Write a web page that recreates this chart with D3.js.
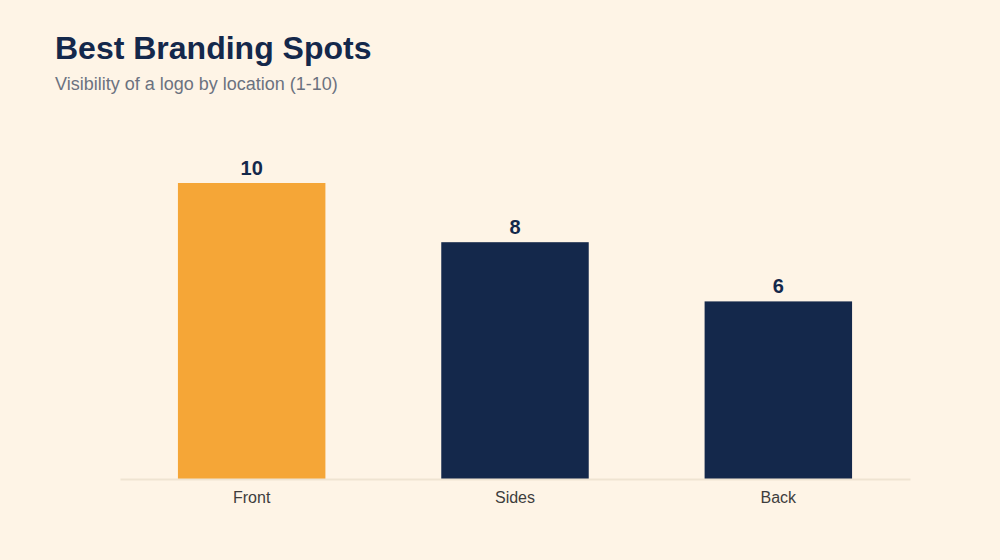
<!DOCTYPE html>
<html>
<head>
<meta charset="utf-8">
<script src="https://cdn.jsdelivr.net/npm/d3@7"></script>
<style>
  html, body { margin: 0; padding: 0; background: #fef4e6; }
  svg { display: block; font-family: "Liberation Sans", Arial, Helvetica, sans-serif; }
</style>
</head>
<body>
<svg id="chart" width="1000" height="560"></svg>
<script>
const categories = ['Front', 'Sides', 'Back'];
const values = [10, 8, 6];
const barColors = ['#f5a637', '#14284b', '#14284b'];

const width = 1000;
const height = 560;
const margin = { top: 183, right: 90, bottom: 81, left: 120 };

const svg = d3.select('#chart');

svg.append('rect')
  .attr('width', width)
  .attr('height', height)
  .attr('fill', '#fef4e6');

// title + subtitle
svg.append('text')
  .attr('x', 55)
  .attr('y', 59)
  .attr('fill', '#14284b')
  .style('font-size', '32px')
  .style('font-weight', 'bold')
  .text('Best Branding Spots');

svg.append('text')
  .attr('x', 55)
  .attr('y', 90)
  .attr('fill', '#6b7280')
  .style('font-size', '18px')
  .text('Visibility of a logo by location (1-10)');

const data = categories.map((c, i) => ({ name: c, value: values[i], color: barColors[i] }));

const xScale = d3.scaleBand()
  .domain(categories)
  .range([margin.left, width - margin.right])
  .paddingInner(0.44)
  .paddingOuter(0.22);

const yScale = d3.scaleLinear()
  .domain([0, 10])
  .range([height - margin.bottom, margin.top]);

// bars
svg.append('g')
  .selectAll('rect')
  .data(data)
  .join('rect')
  .attr('x', d => xScale(d.name))
  .attr('y', d => yScale(d.value))
  .attr('width', xScale.bandwidth())
  .attr('height', d => yScale(0) - yScale(d.value))
  .attr('fill', d => d.color);

// value labels
svg.append('g')
  .selectAll('text')
  .data(data)
  .join('text')
  .attr('x', d => xScale(d.name) + xScale.bandwidth() / 2)
  .attr('y', d => yScale(d.value) - 8)
  .attr('text-anchor', 'middle')
  .attr('fill', '#14284b')
  .style('font-size', '20px')
  .style('font-weight', 'bold')
  .text(d => d.value);

// x axis
const xAxis = svg.append('g')
  .attr('transform', `translate(0, ${yScale(0)})`)
  .call(d3.axisBottom(xScale).tickSize(0).tickPadding(13));

xAxis.select('.domain')
  .attr('stroke', '#efe4d2')
  .attr('stroke-width', 2);

xAxis.selectAll('text')
  .attr('fill', '#3d3d3d')
  .style('font-size', '16px')
  .style('font-family', '"Liberation Sans", Arial, sans-serif');
</script>
</body>
</html>
